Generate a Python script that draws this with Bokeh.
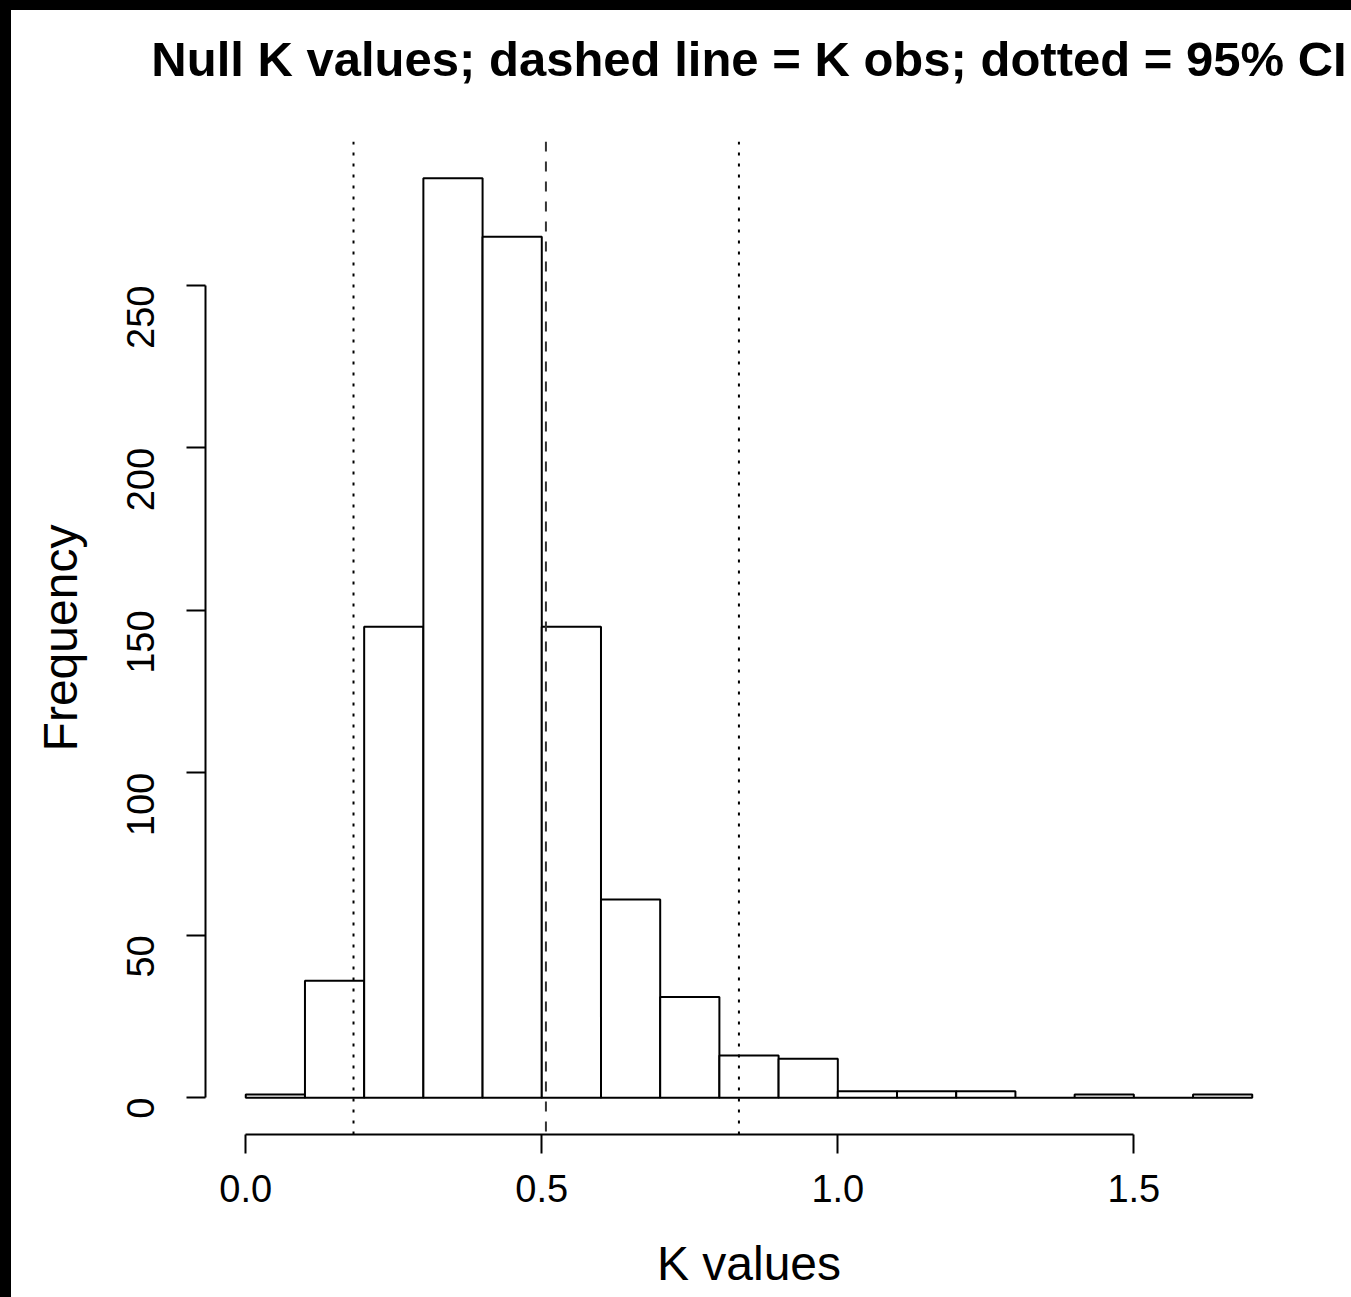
import math
from bokeh.plotting import figure
from bokeh.models import Span, Range1d, FixedTicker, Spacer
from bokeh.layouts import column, row
from bokeh.embed import file_html
from bokeh.resources import INLINE

# data: histogram of null K values
bin_edges = [0.0, 0.1, 0.2, 0.3, 0.4, 0.5, 0.6, 0.7, 0.8, 0.9, 1.0, 1.1, 1.2, 1.3, 1.4, 1.5, 1.6, 1.7]
counts = [1, 36, 145, 283, 265, 145, 61, 31, 13, 12, 2, 2, 2, 0, 1, 0, 1]
k_obs = 0.507
ci_low = 0.182
ci_high = 0.833
x_ticks = [0.0, 0.5, 1.0, 1.5]
y_ticks = [0, 50, 100, 150, 200, 250]
title_text = "Null K values; dashed line = K obs; dotted = 95% CI"

FONT = "Liberation Sans"

xmin, xmax = bin_edges[0], bin_edges[-1]
ymax = max(counts)
xpad = 0.04 * (xmax - xmin)
ypad = 0.04 * ymax

# trailing empty line makes the title box taller so the text sits higher
p = figure(width=1340, height=1287, output_backend="svg", toolbar_location=None,
           x_range=Range1d(xmin - xpad, xmax + xpad), y_range=Range1d(-ypad, ymax + ypad),
           min_border_left=194, min_border_right=59, min_border_top=131, min_border_bottom=163,
           title=title_text + "\n")
p.background_fill_color = "white"
p.border_fill_color = "white"
p.outline_line_color = None
p.xgrid.visible = False
p.ygrid.visible = False

p.title.text_font = FONT
p.title.text_font_size = "49px"
p.title.text_font_style = "bold"
p.title.text_color = "black"
p.title.align = "center"
p.title.vertical_align = "top"
p.title.standoff = 0

p.quad(left=bin_edges[:-1], right=bin_edges[1:], bottom=0, top=counts,
       fill_color="white", line_color="black", line_width=2)

p.add_layout(Span(location=ci_low, dimension="height", line_color="black", line_width=2, line_dash="3 8"))
p.add_layout(Span(location=ci_high, dimension="height", line_color="black", line_width=2, line_dash="3 8"))
p.add_layout(Span(location=k_obs, dimension="height", line_color="#333333", line_width=2, line_dash="10 10"))

xa = p.xaxis[0]
xa.ticker = FixedTicker(ticks=x_ticks)
xa.bounds = (x_ticks[0], x_ticks[-1])
xa.major_label_overrides = {t: f"{t:.1f}" for t in x_ticks}
xa.axis_label = "K values"

ya = p.yaxis[0]
ya.ticker = FixedTicker(ticks=y_ticks)
ya.bounds = (y_ticks[0], y_ticks[-1])
ya.axis_label = "Frequency"
ya.major_label_orientation = math.pi / 2

for ax in (xa, ya):
    ax.axis_line_color = "black"
    ax.axis_line_width = 2
    ax.major_tick_line_color = "black"
    ax.major_tick_line_width = 2
    ax.major_tick_out = 19
    ax.major_tick_in = 0
    ax.minor_tick_line_color = None
    ax.major_label_text_font = FONT
    ax.major_label_text_font_size = "38px"
    ax.major_label_text_color = "black"
    ax.axis_label_text_font = FONT
    ax.axis_label_text_font_size = "48px"
    ax.axis_label_text_font_style = "normal"
    ax.axis_label_text_color = "black"

xa.major_label_standoff = 21
xa.axis_label_standoff = 32
ya.major_label_standoff = 46
ya.axis_label_standoff = 24

top_bar = Spacer(width=1351, height=10, styles={"background-color": "black"})
left_bar = Spacer(width=11, height=1287, styles={"background-color": "black"})
layout = column(top_bar, row(left_bar, p))

open("out.html", "w").write(file_html(layout, INLINE))
